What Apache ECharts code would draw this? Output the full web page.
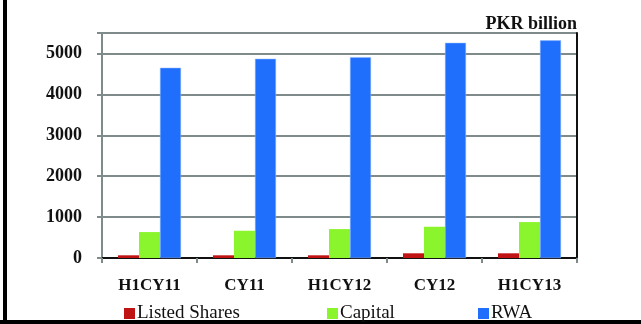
<!DOCTYPE html>
<html>
<head>
<meta charset="utf-8">
<script src="https://cdn.jsdelivr.net/npm/echarts@6/dist/echarts.min.js"></script>
<style>
  html, body { margin: 0; padding: 0; background: #fff; }
  #chart { width: 641px; height: 324px; }
</style>
</head>
<body>
<div id="chart"></div>
<script>
// Periods on the category axis
const periods = ['H1CY11', 'CY11', 'H1CY12', 'CY12', 'H1CY13'];
// Values in PKR billion
const listedShares = [66, 66, 66, 115, 115];
const capital = [634, 666, 707, 764, 878];
const rwa = [4650, 4870, 4910, 5260, 5320];
// Value axis ticks
const yMin = 0;
const yMax = 5500;
const yStep = 1000;

const labelFont = {
  fontFamily: 'Liberation Serif',
  fontWeight: 'bold',
  color: '#111',
};

const legendText = Object.assign({}, labelFont, { fontWeight: 'normal', fontSize: 19, padding: [0, 0, 0, -3] });

function legendFor(name, left) {
  return {
    left: left,
    bottom: 1,
    itemWidth: 11,
    itemHeight: 11,
    icon: 'rect',
    padding: 0,
    itemStyle: { borderWidth: 0 },
    textStyle: legendText,
    data: [name],
  };
}

const chart = echarts.init(document.getElementById('chart'), null, { renderer: 'canvas' });

chart.setOption({
  animation: false,
  backgroundColor: '#fff',
  title: {
    text: 'PKR billion',
    right: 64,
    top: 15,
    padding: 0,
    textStyle: Object.assign({ fontSize: 18 }, labelFont),
  },
  legend: [
    legendFor('Listed Shares', 124),
    legendFor('Capital', 327),
    legendFor('RWA', 478),
  ],
  grid: { left: 102, right: 64, top: 33, bottom: 66 },
  xAxis: [
    {
      type: 'category',
      data: periods,
      axisLine: { lineStyle: { color: '#7f8b8a', width: 2 } },
      axisTick: { show: true, length: 5, lineStyle: { color: '#7f8b8a', width: 2 } },
      axisLabel: Object.assign({ fontSize: 17, margin: 19 }, labelFont),
    },
    {
      type: 'category',
      position: 'top',
      data: periods,
      axisLine: { lineStyle: { color: '#111', width: 2 } },
      axisTick: { show: false },
      axisLabel: { show: false },
    },
  ],
  yAxis: [
    {
      type: 'value',
      min: yMin,
      max: yMax,
      interval: yStep,
      axisLine: { show: true, lineStyle: { color: '#7f8b8a', width: 2 } },
      axisTick: { show: true, length: 5, lineStyle: { color: '#7f8b8a', width: 2 } },
      splitLine: { lineStyle: { color: '#7f8b8a', width: 2 } },
      axisLabel: Object.assign({
        fontSize: 18,
        margin: 20,
        formatter: v => (v % yStep === 0 ? String(v) : ''),
      }, labelFont),
    },
    {
      type: 'value',
      position: 'right',
      min: yMin,
      max: yMax,
      interval: yStep,
      axisLine: { show: true, lineStyle: { color: '#111', width: 2 } },
      axisTick: { show: false },
      splitLine: { show: false },
      axisLabel: { show: false },
    },
  ],
  series: [
    {
      name: 'Listed Shares',
      type: 'bar',
      data: listedShares,
      barWidth: 21,
      barGap: '0%',
      itemStyle: { color: '#c01414' },
    },
    {
      name: 'Capital',
      type: 'bar',
      data: capital,
      barWidth: 21,
      barGap: '0%',
      itemStyle: { color: '#8af52c' },
    },
    {
      name: 'RWA',
      type: 'bar',
      data: rwa,
      barWidth: 21,
      barGap: '0%',
      itemStyle: { color: '#1f6ffc', borderColor: '#8fb8ff', borderWidth: 0.5 },
    },
  ],
  graphic: [
    // page frame: left and bottom rules
    { type: 'rect', left: 3, top: 0, shape: { width: 4, height: 324 }, style: { fill: '#000' } },
    { type: 'rect', left: 0, top: 320, shape: { width: 641, height: 4 }, style: { fill: '#000' } },
  ],
});
</script>
</body>
</html>
